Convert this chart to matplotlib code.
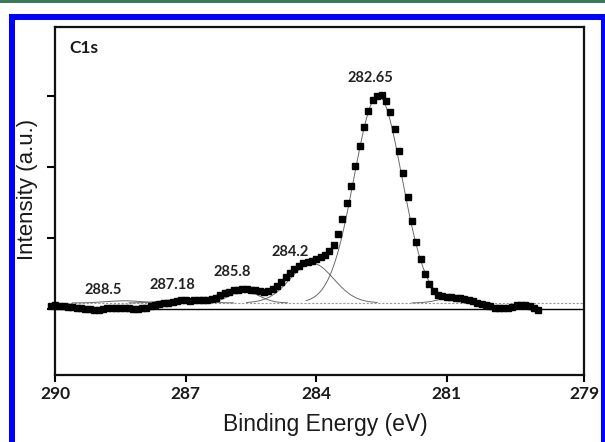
import numpy as np
import matplotlib
matplotlib.use('Agg')
import matplotlib.pyplot as plt
from matplotlib.patches import Rectangle

# XPS C1s scan: binding energy (eV) and intensity (a.u.)
energy = [290.1, 290.0, 289.9, 289.8, 289.7, 289.6, 289.5, 289.4, 289.3, 289.2,
          289.1, 289.0, 288.9, 288.8, 288.7, 288.6, 288.5, 288.4, 288.3, 288.2,
          288.1, 288.0, 287.9, 287.8, 287.7, 287.6, 287.5, 287.4, 287.3, 287.2,
          287.1, 287.0, 286.9, 286.8, 286.7, 286.6, 286.5, 286.4, 286.3, 286.2,
          286.1, 286.0, 285.9, 285.8, 285.7, 285.6, 285.5, 285.4, 285.3, 285.2,
          285.1, 285.0, 284.9, 284.8, 284.7, 284.6, 284.5, 284.4, 284.3, 284.2,
          284.1, 284.0, 283.9, 283.8, 283.7, 283.6, 283.5, 283.4, 283.3, 283.2,
          283.1, 283.0, 282.9, 282.8, 282.7, 282.6, 282.5, 282.4, 282.3, 282.2,
          282.1, 282.0, 281.9, 281.8, 281.7, 281.6, 281.5, 281.4, 281.3, 281.2,
          281.1, 281.0, 280.9, 280.8, 280.7, 280.6, 280.5, 280.4, 280.3, 280.2,
          280.1, 280.0, 279.9, 279.8, 279.7, 279.6, 279.5, 279.4, 279.3, 279.2,
          279.1, 279.0, 278.9]
intensity = [0.04, 0.05, 0.04, 0.04, 0.03, 0.03, 0.02, 0.01, 0.00, 0.00,
             -0.01, -0.01, 0.00, 0.01, 0.01, 0.02, 0.02, 0.01, 0.01, 0.00,
             0.00, 0.01, 0.02, 0.04, 0.05, 0.07, 0.08, 0.09, 0.10, 0.11,
             0.12, 0.12, 0.11, 0.12, 0.13, 0.13, 0.13, 0.14, 0.16, 0.19,
             0.22, 0.24, 0.26, 0.27, 0.28, 0.28, 0.27, 0.26, 0.25, 0.24,
             0.25, 0.28, 0.32, 0.38, 0.45, 0.51, 0.56, 0.61, 0.64, 0.66,
             0.68, 0.70, 0.73, 0.76, 0.81, 0.90, 1.06, 1.26, 1.49, 1.73,
             2.01, 2.29, 2.56, 2.79, 2.94, 3.00, 3.01, 2.93, 2.78, 2.53,
             2.23, 1.91, 1.57, 1.24, 0.94, 0.70, 0.49, 0.35, 0.25, 0.20,
             0.18, 0.17, 0.17, 0.16, 0.16, 0.14, 0.13, 0.11, 0.09, 0.07,
             0.05, 0.04, 0.02, 0.01, 0.01, 0.01, 0.03, 0.06, 0.06, 0.05,
             0.04, 0.02, -0.01]

# fitted components (gaussian): centre, height above background, sigma
comp_center = [288.4, 287.1, 285.65, 284.1, 282.58, 280.9]
comp_height = [0.03, 0.05, 0.17, 0.56, 2.92, 0.07]
comp_sigma = [0.40, 0.40, 0.33, 0.50, 0.55, 0.30]
background = 0.085

peak_labels = ['288.5', '287.18', '285.8', '284.2', '282.65']
label_x = [288.9, 287.3, 285.92, 284.6, 282.75]
label_y = [0.27, 0.34, 0.52, 0.80, 3.25]

xticks = [290, 287, 284, 281, 277.85]
xticklabels = ['290', '287', '284', '281', '279']

W, H = 605, 442
fig = plt.figure(figsize=(W / 100, H / 100), dpi=100)
fig.patch.set_facecolor('white')
ax = fig.add_axes([55 / W, 1 - 375 / H, 529 / W, 348 / H])

xmin, xmax = 290, 277.85
ax.plot([xmin, xmax], [0, 0], color='black', lw=1.0, zorder=2)
ax.plot([xmin, xmax], [background, background], color='#9a9a9a', lw=0.8,
        ls=(0, (2, 1.5)), zorder=2)

for c, h, s in zip(comp_center, comp_height, comp_sigma):
    e = np.linspace(c - 3 * s, c + 3 * s, 200)
    ax.plot(e, background + h * np.exp(-(e - c) ** 2 / (2 * s ** 2)),
            color='#6a6a6a', lw=0.7, zorder=3)

ax.plot(energy, intensity, ls='none', marker='s', ms=4.1, color='black',
        zorder=4, clip_on=False)

for t, x, y in zip(peak_labels, label_x, label_y):
    ax.text(x, y, t, ha='center', va='center', fontsize=10.5, family='Lato',
            fontweight='bold', color='#222222')
ax.text(289.33, 3.68, 'C1s', ha='center', va='center', fontsize=12.5,
        family='Lato', fontweight='bold', color='#1a1a1a')

ax.set_xlim(xmin, xmax)
ax.set_ylim(-0.93, 3.97)
ax.set_xticks(xticks)
ax.set_xticklabels(xticklabels, family='Lato', fontweight='bold', fontsize=12.5,
                   color='#1a1a1a')
ax.set_yticks([0, 1, 2, 3])
ax.set_yticklabels([])
ax.tick_params(axis='x', direction='out', length=5, width=1.5, pad=3)
ax.tick_params(axis='y', direction='out', length=6, width=1.5)
for sp in ax.spines.values():
    sp.set_linewidth(1.6)
    sp.set_color('#111111')

ax.set_xlabel('Binding Energy (eV)', family='Liberation Sans', fontsize=16.5,
              color='#1a1a1a')
ax.set_ylabel('Intensity (a.u.)', family='Liberation Sans', fontsize=16,
              color='#1a1a1a')
ax.xaxis.set_label_coords(0.5 + 6 / 529, -(424 - 375) / 348)
ax.xaxis.label.set_va('center')
ax.yaxis.set_label_coords((28 - 55) / 529, (375 - 189) / 348)
ax.yaxis.label.set_va('center')

# page decorations: green rule at top and blue frame
def px_rect(x0, y0, x1, y1, color):
    fig.add_artist(Rectangle((x0 / W, 1 - y1 / H), (x1 - x0) / W, (y1 - y0) / H,
                             transform=fig.transFigure, color=color, lw=0))

px_rect(0, 0, W, 3, '#3d7a5c')
px_rect(9, 14, W, 20, '#0000ff')
px_rect(9, 14, 15, H, '#0000ff')
px_rect(601, 14, W, H, '#0000ff')

fig.savefig('out.png', dpi=100)
